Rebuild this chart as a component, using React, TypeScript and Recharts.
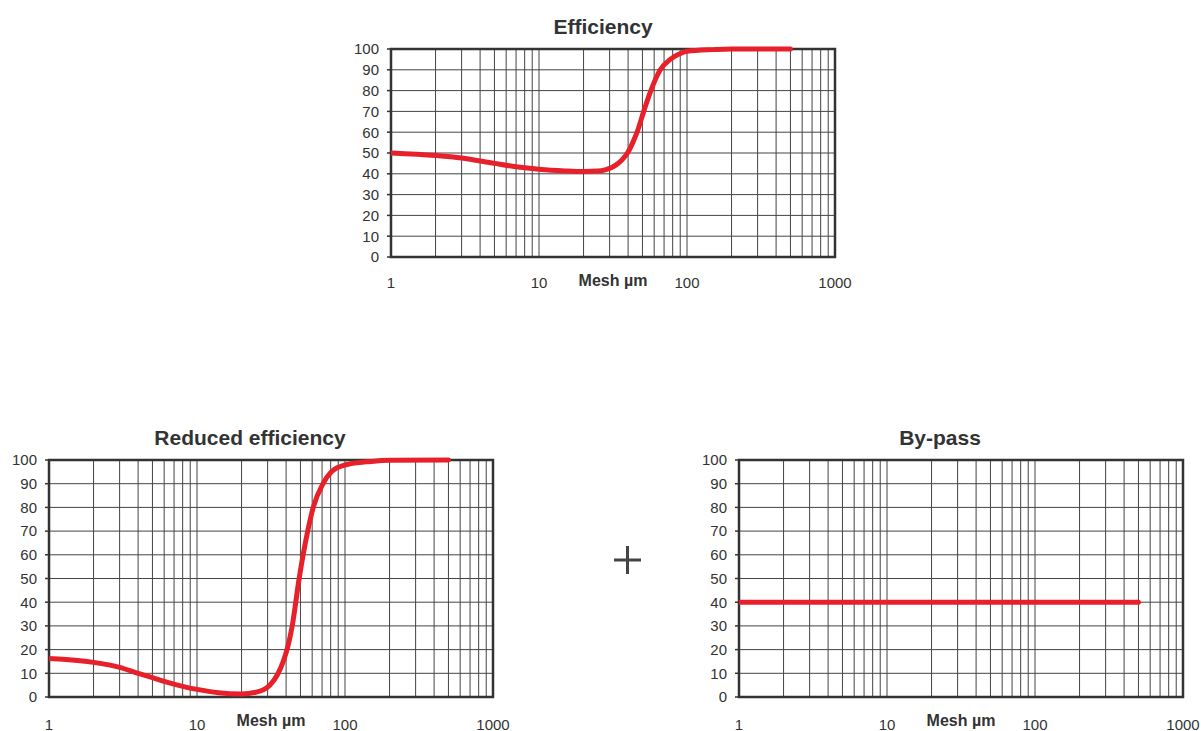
import React from "react";
import {
  CartesianGrid,
  Line,
  LineChart,
  ReferenceArea,
  XAxis,
  YAxis,
} from "recharts";

// particle size (µm) / separation %
const efficiencyMesh = [1, 2, 3, 5, 7, 10, 15, 20, 25, 28, 31, 34, 37, 40, 43, 46, 51, 57, 66, 77, 90, 100, 150, 200, 500];
const efficiencyValues = [50, 48.8, 47.6, 45, 43.4, 42.2, 41.4, 41.1, 41.3, 41.9, 43, 44.8, 47.3, 50.5, 55, 60, 70, 80, 90, 95, 97.8, 98.9, 99.7, 100, 100];

const reducedMesh = [1, 2, 3, 4, 5, 6, 8, 10, 14, 20, 25, 28, 31, 35, 38, 41, 44, 49, 56, 61, 71, 81, 100, 150, 200, 500];
const reducedValues = [16.2, 14.6, 12.5, 10, 8.2, 6.6, 4.5, 3.2, 1.8, 1.3, 2, 3, 5, 9.5, 14.5, 21, 30, 50, 70, 80, 90, 95, 97.9, 99.4, 99.9, 100];

const bypassMesh = [1, 500];
const bypassValues = [40, 40];

const yTicks = [0, 10, 20, 30, 40, 50, 60, 70, 80, 90, 100];
const decadeLabels = [1, 10, 100, 1000];
const xGridTicks = [
  1, 2, 3, 4, 5, 6, 7, 8, 9,
  10, 20, 30, 40, 50, 60, 70, 80, 90,
  100, 200, 300, 400, 500, 600, 700, 800, 900,
  1000,
];

const FONT = "'Liberation Sans', Arial, Helvetica, sans-serif";
const INK = "#333";
const RED = "#e8202a";

type PanelProps = {
  title: string;
  titleX: number;
  titleY: number;
  mesh: number[];
  values: number[];
  left: number;
  top: number;
  width: number;
  height: number;
  axisWidth: number;
  marginTop: number;
  marginRight: number;
  labelGap: number;
};

const Panel = (p: PanelProps) => {
  const data = p.mesh.map((x, i) => ({ x, y: p.values[i] }));
  return (
    <>
      <div
        style={{
          position: "absolute",
          left: p.titleX - 200,
          top: p.titleY,
          width: 400,
          textAlign: "center",
          fontFamily: FONT,
          fontWeight: "bold",
          fontSize: 21,
          lineHeight: "21px",
          color: INK,
        }}
      >
        {p.title}
      </div>
      <div style={{ position: "absolute", left: p.left, top: p.top }}>
        <LineChart
          width={p.width}
          height={p.height}
          data={data}
          margin={{ top: p.marginTop, right: p.marginRight, left: 0, bottom: 0 }}
        >
          <CartesianGrid stroke="#444" strokeWidth={1} />
          <XAxis
            dataKey="x"
            type="number"
            scale="log"
            domain={[1, 1000]}
            allowDataOverflow
            ticks={xGridTicks}
            interval={0}
            tickFormatter={(v: number) => (decadeLabels.includes(v) ? String(v) : "")}
            tickLine={false}
            axisLine={false}
            tickSize={0}
            tickMargin={p.labelGap}
            height={40}
            tick={{ fill: INK, fontSize: 15, fontFamily: FONT }}
            label={{
              value: "Mesh µm",
              position: "insideBottom",
              offset: 11,
              fill: INK,
              fontSize: 16,
              fontWeight: "bold",
              fontFamily: FONT,
            }}
          />
          <YAxis
            type="number"
            domain={[0, 100]}
            ticks={yTicks}
            interval={0}
            width={p.axisWidth}
            axisLine={false}
            tickLine={{ stroke: INK, strokeWidth: 1.5 }}
            tickSize={4}
            tickMargin={8}
            tick={{ fill: INK, fontSize: 15, fontFamily: FONT }}
          />
          <ReferenceArea
            x1={1}
            x2={1000}
            y1={0}
            y2={100}
            fill="none"
            fillOpacity={0}
            stroke={INK}
            strokeWidth={2.5}
            strokeOpacity={1}
            ifOverflow="visible"
          />
          <Line
            type="monotone"
            dataKey="y"
            stroke={RED}
            strokeWidth={5}
            strokeLinecap="round"
            dot={false}
            activeDot={false}
            isAnimationActive={false}
          />
        </LineChart>
      </div>
    </>
  );
};

export default function App() {
  return (
    <div
      style={{
        position: "absolute",
        left: 0,
        top: 0,
        width: 1201,
        height: 731,
        background: "#fff",
        fontFamily: FONT,
      }}
    >
      <Panel
        title="Efficiency"
        titleX={603}
        titleY={16}
        mesh={efficiencyMesh}
        values={efficiencyValues}
        left={340}
        top={40}
        width={525}
        height={257}
        axisWidth={51}
        marginTop={9}
        marginRight={30}
        labelGap={20}
      />
      <Panel
        title="Reduced efficiency"
        titleX={250}
        titleY={427}
        mesh={reducedMesh}
        values={reducedValues}
        left={0}
        top={450}
        width={523}
        height={287}
        axisWidth={49}
        marginTop={10}
        marginRight={30}
        labelGap={22}
      />
      <Panel
        title="By-pass"
        titleX={940}
        titleY={427}
        mesh={bypassMesh}
        values={bypassValues}
        left={690}
        top={450}
        width={511}
        height={287}
        axisWidth={49}
        marginTop={10}
        marginRight={18}
        labelGap={22}
      />
      <svg
        style={{ position: "absolute", left: 610, top: 542 }}
        width={36}
        height={36}
      >
        <line x1={4} y1={18} x2={31} y2={18} stroke="#444" strokeWidth={3} />
        <line x1={17.5} y1={4} x2={17.5} y2={32} stroke="#444" strokeWidth={3} />
      </svg>
    </div>
  );
}
